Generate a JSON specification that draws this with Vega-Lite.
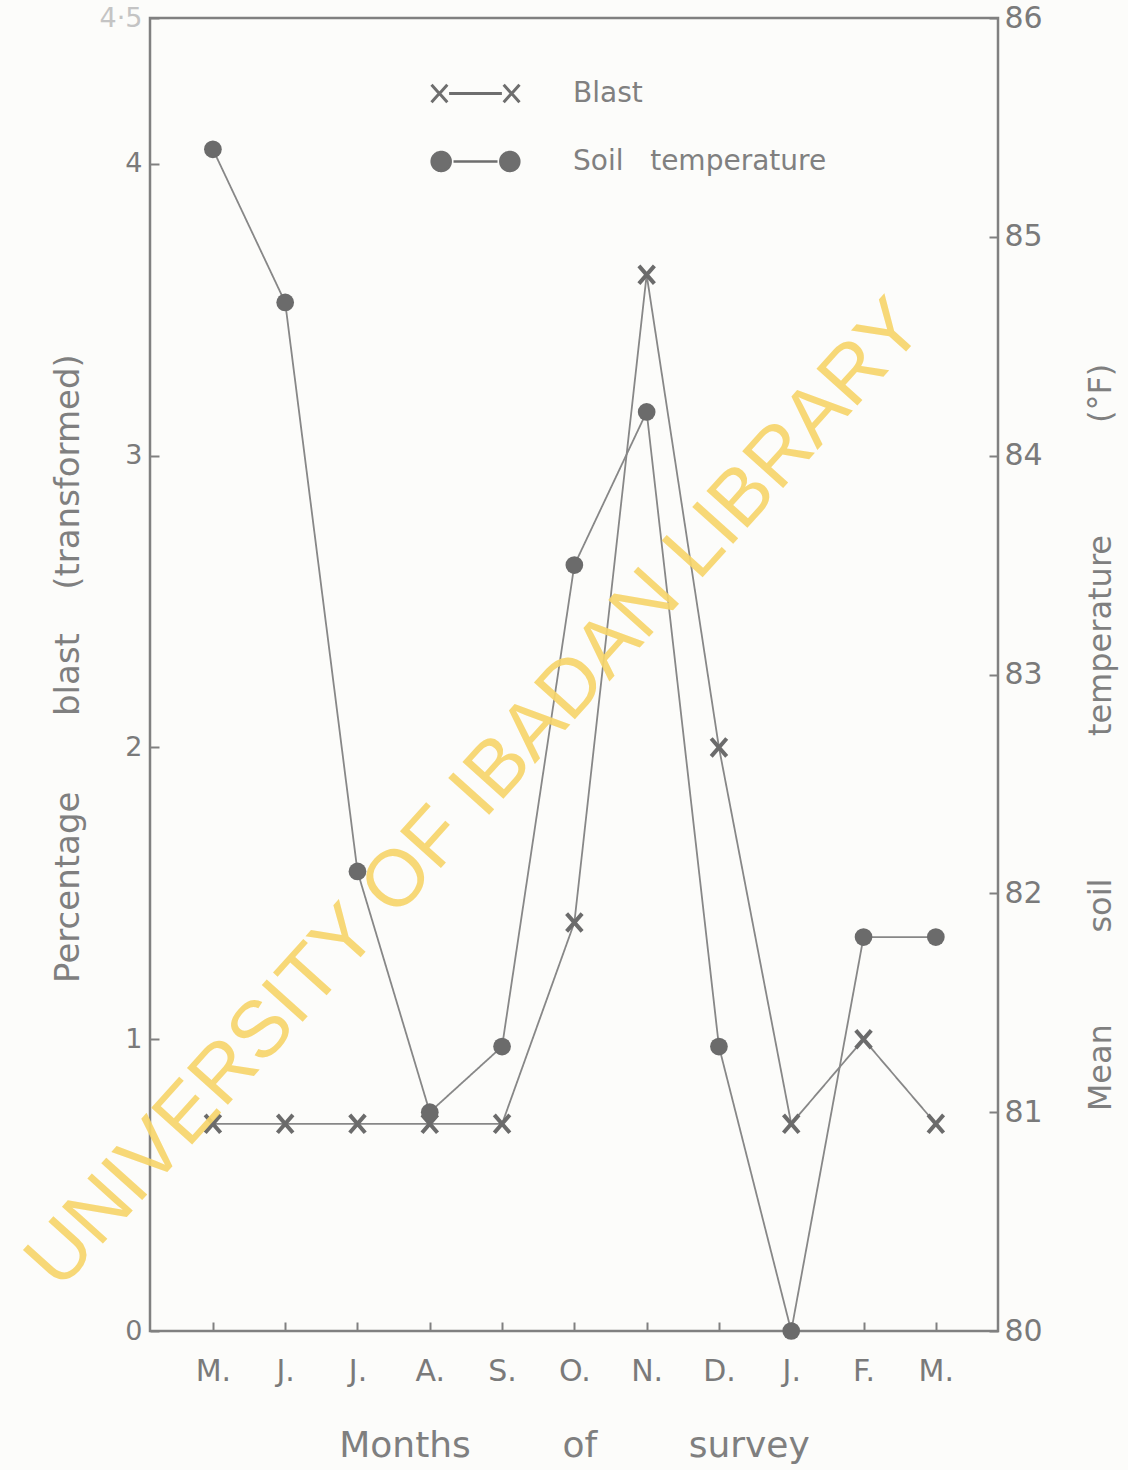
{
  "$schema": "https://vega.github.io/schema/vega-lite/v6.json",
  "autosize": "none",
  "width": 848,
  "height": 1313,
  "padding": {"left": 150, "top": 18, "right": 130, "bottom": 139},
  "background": "#fcfcfa",
  "config": {
    "view": {"stroke": "#808080", "strokeWidth": 2.5},
    "axis": {
      "domain": false,
      "grid": false,
      "tickColor": "#808080",
      "tickWidth": 2,
      "tickSize": -9,
      "labelColor": "#7a7a7a",
      "titleColor": "#7f7f7f",
      "labelFont": "DejaVu Sans",
      "titleFont": "DejaVu Sans",
      "titleFontWeight": "normal"
    },
    "legend": {
      "labelFont": "DejaVu Sans",
      "labelFontSize": 28,
      "labelColor": "#808080",
      "labelLimit": 700,
      "padding": 0,
      "symbolStrokeColor": "#6e6e6e",
      "symbolStrokeWidth": 2.5
    }
  },
  "data": {
    "values": [
      {"i": 0, "month": "M.", "series": "Blast", "value": 0.71},
      {"i": 1, "month": "J.", "series": "Blast", "value": 0.71},
      {"i": 2, "month": "J.", "series": "Blast", "value": 0.71},
      {"i": 3, "month": "A.", "series": "Blast", "value": 0.71},
      {"i": 4, "month": "S.", "series": "Blast", "value": 0.71},
      {"i": 5, "month": "O.", "series": "Blast", "value": 1.40},
      {"i": 6, "month": "N.", "series": "Blast", "value": 3.62},
      {"i": 7, "month": "D.", "series": "Blast", "value": 2.00},
      {"i": 8, "month": "J.", "series": "Blast", "value": 0.71},
      {"i": 9, "month": "F.", "series": "Blast", "value": 1.00},
      {"i": 10, "month": "M.", "series": "Blast", "value": 0.71},
      {"i": 0, "month": "M.", "series": "Soil temperature", "value": 85.4},
      {"i": 1, "month": "J.", "series": "Soil temperature", "value": 84.7},
      {"i": 2, "month": "J.", "series": "Soil temperature", "value": 82.1},
      {"i": 3, "month": "A.", "series": "Soil temperature", "value": 81.0},
      {"i": 4, "month": "S.", "series": "Soil temperature", "value": 81.3},
      {"i": 5, "month": "O.", "series": "Soil temperature", "value": 83.5},
      {"i": 6, "month": "N.", "series": "Soil temperature", "value": 84.2},
      {"i": 7, "month": "D.", "series": "Soil temperature", "value": 81.3},
      {"i": 8, "month": "J.", "series": "Soil temperature", "value": 80.0},
      {"i": 9, "month": "F.", "series": "Soil temperature", "value": 81.8},
      {"i": 10, "month": "M.", "series": "Soil temperature", "value": 81.8}
    ]
  },
  "layer": [
    {
      "transform": [{"filter": "datum.series === 'Blast'"}],
      "layer": [
        {
          "mark": {"type": "line", "color": "#878787", "strokeWidth": 1.8},
          "encoding": {
            "x": {
              "field": "i",
              "type": "quantitative",
              "scale": {"domain": [-0.87, 10.86], "nice": false, "zero": false},
              "axis": {
                "values": [0, 1, 2, 3, 4, 5, 6, 7, 8, 9, 10],
                "labelExpr": "['M.','J.','J.','A.','S.','O.','N.','D.','J.','F.','M.'][datum.value]",
                "labelFontSize": 30,
                "labelPadding": 34,
                "title": "Months\u00a0\u00a0\u00a0\u00a0\u00a0\u00a0\u00a0\u00a0of\u00a0\u00a0\u00a0\u00a0\u00a0\u00a0\u00a0\u00a0survey",
                "titleFontSize": 36,
                "titlePadding": 42
              }
            },
            "y": {
              "field": "value",
              "type": "quantitative",
              "scale": {"domain": [0, 4.5], "nice": false, "zero": false},
              "axis": {
                "orient": "left",
                "values": [0, 1, 2, 3, 4, 4.5],
                "labelExpr": "datum.value == 4.5 ? '4·5' : format(datum.value, 'd')",
                "labelColor": {"condition": {"test": "datum.value == 4.5", "value": "#c4c4c4"}, "value": "#7a7a7a"},
                "labelFontSize": 27,
                "labelPadding": 17,
                "title": "Percentage\u00a0\u00a0\u00a0\u00a0\u00a0\u00a0\u00a0blast\u00a0\u00a0\u00a0\u00a0(transformed)",
                "titleFontSize": 34,
                "titleAngle": 270,
                "titleAlign": "center",
                "titleBaseline": "middle",
                "titleX": -82,
                "titleY": 650
              }
            },
            "strokeDash": {
              "field": "series",
              "type": "nominal",
              "scale": {"domain": ["Blast"], "range": [[1, 0]]},
              "legend": {
                "orient": "none",
                "legendX": 280,
                "legendY": 30,
                "title": null,
                "symbolType": "M-1,-0.2L-0.64,0.2M-1,0.2L-0.64,-0.2M-0.6,0L0.6,0M0.64,-0.2L1,0.2M0.64,0.2L1,-0.2",
                "symbolSize": 7744,
                "symbolFillColor": "transparent",
                "symbolStrokeWidth": 3,
                "labelOffset": 52
              }
            }
          }
        },
        {
          "mark": {
            "type": "point",
            "shape": "M-1,-1.15L1,1.15M-1,1.15L1,-1.15",
            "filled": false,
            "stroke": "#6b6b6b",
            "strokeWidth": 4,
            "size": 240,
            "opacity": 1
          },
          "encoding": {
            "x": {"field": "i", "type": "quantitative"},
            "y": {"field": "value", "type": "quantitative"}
          }
        }
      ]
    },
    {
      "transform": [{"filter": "datum.series === 'Soil temperature'"}],
      "layer": [
        {
          "mark": {"type": "line", "color": "#878787", "strokeWidth": 1.8},
          "encoding": {
            "x": {"field": "i", "type": "quantitative"},
            "y": {
              "field": "value",
              "type": "quantitative",
              "scale": {"domain": [80, 86], "nice": false, "zero": false},
              "axis": {
                "orient": "right",
                "values": [80, 81, 82, 83, 84, 85, 86],
                "format": "d",
                "labelFontSize": 30,
                "labelPadding": 15,
                "title": "Mean\u00a0\u00a0\u00a0\u00a0\u00a0\u00a0\u00a0\u00a0\u00a0soil\u00a0\u00a0\u00a0\u00a0\u00a0\u00a0\u00a0\u00a0\u00a0\u00a0\u00a0\u00a0\u00a0\u00a0temperature\u00a0\u00a0\u00a0\u00a0\u00a0\u00a0\u00a0\u00a0\u00a0\u00a0\u00a0(°F)",
                "titleFontSize": 32,
                "titleAngle": 270,
                "titleAlign": "center",
                "titleBaseline": "middle",
                "titleX": 102,
                "titleY": 719
              }
            },
            "strokeDash": {
              "field": "series",
              "type": "nominal",
              "scale": {"domain": ["Soil temperature"], "range": [[1, 0]]},
              "legend": {
                "orient": "none",
                "legendX": 280,
                "legendY": 98,
                "title": null,
                "symbolType": "M-0.996,0A0.216,0.216,0,1,1,-0.564,0A0.216,0.216,0,1,1,-0.996,0ZM-0.5,0L0.5,0M0.564,0A0.216,0.216,0,1,1,0.996,0A0.216,0.216,0,1,1,0.564,0Z",
                "symbolSize": 7744,
                "symbolFillColor": "#6e6e6e",
                "labelOffset": 52,
                "labelExpr": "replace(datum.label, ' ', '\u00a0\u00a0\u00a0')"
              }
            }
          }
        },
        {
          "mark": {"type": "point", "shape": "circle", "filled": true, "color": "#6b6b6b", "size": 314, "opacity": 1},
          "encoding": {
            "x": {"field": "i", "type": "quantitative"},
            "y": {"field": "value", "type": "quantitative"}
          }
        }
      ]
    },
    {
      "data": {"values": [{"label": "UNIVERSITY OF IBADAN LIBRARY", "i": 3.63, "v": 1.84}]},
      "mark": {
        "type": "text",
        "angle": 312,
        "font": "Liberation Sans",
        "fontSize": 80,
        "color": "#f7d66c",
        "opacity": 0.92,
        "align": "center",
        "baseline": "middle"
      },
      "encoding": {
        "x": {"field": "i", "type": "quantitative"},
        "y": {"field": "v", "type": "quantitative", "scale": {"domain": [0, 4.5], "nice": false}, "axis": null},
        "text": {"field": "label"}
      }
    }
  ],
  "resolve": {
    "scale": {"y": "independent", "strokeDash": "independent"},
    "legend": {"strokeDash": "independent"}
  }
}
